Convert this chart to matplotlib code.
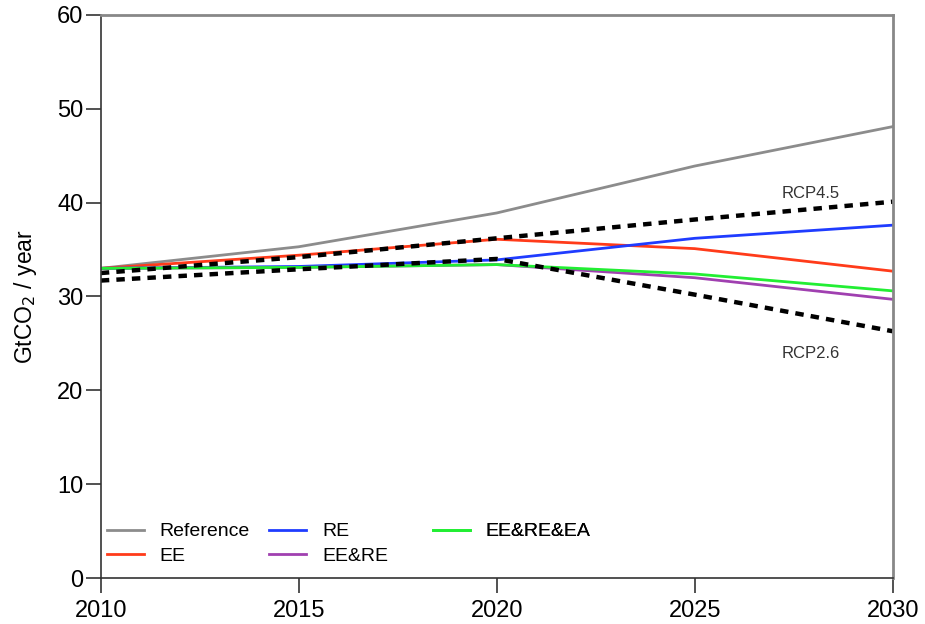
import matplotlib
matplotlib.use("Agg")
from matplotlib import pyplot as plt

plt.rcParams['font.family'] = ['Liberation Sans', 'DejaVu Sans']

# data
years = [2010, 2015, 2020, 2025, 2030]
reference = [33.0, 35.3, 38.9, 43.9, 48.1]
ee = [33.0, 34.4, 36.1, 35.1, 32.7]
re_ = [33.0, 33.2, 33.9, 36.2, 37.6]
ee_re = [33.0, 33.1, 33.4, 32.0, 29.7]
ee_re_ea = [33.0, 33.1, 33.4, 32.4, 30.6]
rcp45 = [32.5, 34.2, 36.2, 38.2, 40.1]
rcp26 = [31.7, 32.9, 34.0, 30.2, 26.3]

fig = plt.figure(figsize=(9.25, 6.24), dpi=100)
ax = fig.add_axes([0.109, 0.0737, 0.856, 0.9023])

l_ref, = ax.plot(years, reference, color='#8c8c8c', lw=2, label='Reference')
l_ee, = ax.plot(years, ee, color='#ff3b1a', lw=2, label='EE')
l_re, = ax.plot(years, re_, color='#1f3cff', lw=2, label='RE')
l_eere, = ax.plot(years, ee_re, color='#a040b0', lw=2, label='EE&RE')
l_all, = ax.plot(years, ee_re_ea, color='#22ee33', lw=2, label='EE&RE&EA')

ax.plot(years, rcp45, color='black', lw=3.2, ls=(0, (1.9, 1.6)))
ax.plot(years, rcp26, color='black', lw=3.2, ls=(0, (1.9, 1.6)))
ax.text(2027.2, 40.5, 'RCP4.5', fontsize=12, color='#333333')
ax.text(2027.2, 23.4, 'RCP2.6', fontsize=12, color='#333333')

ax.set_xlim(2010, 2030)
ax.set_ylim(0, 60)
ax.set_xticks([2010, 2015, 2020, 2025, 2030])
ax.set_yticks(range(0, 61, 10))
ax.tick_params(labelsize=17, length=10.5, width=1.2, color='#333333', direction='out')
ax.tick_params(axis='y', pad=2)
ax.tick_params(axis='x', pad=5)
ax.set_ylabel('GtCO$_2$ / year', fontsize=16.5, labelpad=13)

for s in ['left', 'bottom']:
    ax.spines[s].set_color('#333333')
    ax.spines[s].set_linewidth(1.2)
for s in ['top', 'right']:
    ax.spines[s].set_color('#888888')
    ax.spines[s].set_linewidth(2)

# legend: three fixed-width columns
columns = [[l_ref, l_ee], [l_re, l_eere], [l_all]]
col_x = [0.0076, 0.213, 0.419]
for handles, x in zip(columns, col_x):
    leg = ax.legend(handles=handles, loc='upper left', bbox_to_anchor=(x, 0.098),
                    frameon=False, fontsize=14, handlelength=1.9, handletextpad=0.82,
                    labelspacing=0.35, borderpad=0, borderaxespad=0)
    ax.add_artist(leg)

plt.savefig('out.png', dpi=100)
